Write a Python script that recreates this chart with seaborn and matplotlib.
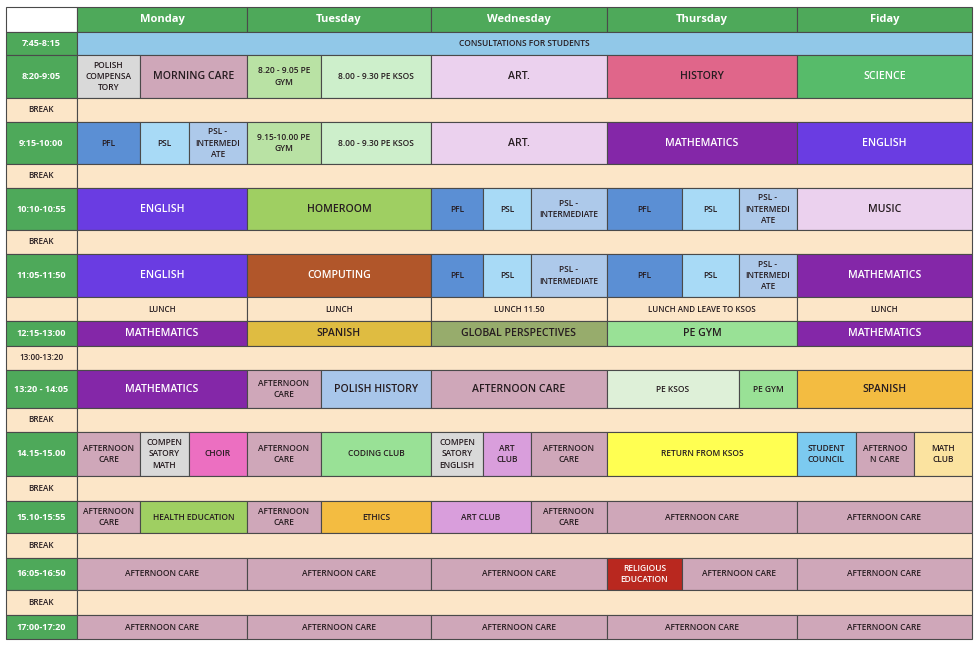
import numpy as np
import matplotlib
matplotlib.use("Agg")
import matplotlib.pyplot as plt
import seaborn as sns

# timetable content
days = ["Monday", "Tuesday", "Wednesday", "Thursday", "Fiday"]
day_subcols = [(1, 4), (4, 6), (6, 9), (9, 12), (12, 15)]

slot_labels = ["", "7:45-8:15", "8:20-9:05", "BREAK", "9:15-10:00", "BREAK",
               "10:10-10:55", "BREAK", "11:05-11:50", "", "12:15-13:00",
               "13:00-13:20", "13:20 - 14:05", "BREAK", "14.15-15.00", "BREAK",
               "15.10-15:55", "BREAK", "16:05-16:50", "BREAK", "17:00-17:20"]

# (text, first subcol, end subcol, subject key, big text)
psl_int = "PSL -\nINTERMEDI\nATE"
ac2 = "AFTERNOON\nCARE"
row_cells = {
    1: [("CONSULTATIONS FOR STUDENTS", 1, 15, "consult", False)],
    2: [("POLISH\nCOMPENSA\nTORY", 1, 2, "grey", False),
        ("MORNING CARE", 2, 4, "care", True),
        ("8.20 - 9.05 PE\nGYM", 4, 5, "pegym_l", False),
        ("8.00 - 9.30 PE KSOS", 5, 6, "ksos", False),
        ("ART.", 6, 9, "art", True),
        ("HISTORY", 9, 12, "history", True),
        ("SCIENCE", 12, 15, "science", True)],
    4: [("PFL", 1, 2, "pfl", False), ("PSL", 2, 3, "psl", False),
        (psl_int, 3, 4, "psli", False),
        ("9.15-10.00 PE\nGYM", 4, 5, "pegym_l", False),
        ("8.00 - 9.30 PE KSOS", 5, 6, "ksos", False),
        ("ART.", 6, 9, "art", True),
        ("MATHEMATICS", 9, 12, "math", True),
        ("ENGLISH", 12, 15, "english", True)],
    6: [("ENGLISH", 1, 4, "english", True),
        ("HOMEROOM", 4, 6, "homeroom", True),
        ("PFL", 6, 7, "pfl", False), ("PSL", 7, 8, "psl", False),
        ("PSL -\nINTERMEDIATE", 8, 9, "psli", False),
        ("PFL", 9, 10, "pfl", False), ("PSL", 10, 11, "psl", False),
        (psl_int, 11, 12, "psli", False),
        ("MUSIC", 12, 15, "art", True)],
    8: [("ENGLISH", 1, 4, "english", True),
        ("COMPUTING", 4, 6, "computing", True),
        ("PFL", 6, 7, "pfl", False), ("PSL", 7, 8, "psl", False),
        ("PSL -\nINTERMEDIATE", 8, 9, "psli", False),
        ("PFL", 9, 10, "pfl", False), ("PSL", 10, 11, "psl", False),
        (psl_int, 11, 12, "psli", False),
        ("MATHEMATICS", 12, 15, "math", True)],
    9: [("LUNCH", 1, 4, "break", False), ("LUNCH", 4, 6, "break", False),
        ("LUNCH 11.50", 6, 9, "break", False),
        ("LUNCH AND LEAVE TO KSOS", 9, 12, "break", False),
        ("LUNCH", 12, 15, "break", False)],
    10: [("MATHEMATICS", 1, 4, "math", True),
         ("SPANISH", 4, 6, "spanish_d", True),
         ("GLOBAL PERSPECTIVES", 6, 9, "global", True),
         ("PE GYM", 9, 12, "pegym", True),
         ("MATHEMATICS", 12, 15, "math", True)],
    12: [("MATHEMATICS", 1, 4, "math", True),
         (ac2, 4, 5, "care", False),
         ("POLISH HISTORY", 5, 6, "polhist", True),
         ("AFTERNOON CARE", 6, 9, "care", True),
         ("PE KSOS", 9, 11, "ksos_l", False),
         ("PE GYM", 11, 12, "pegym", False),
         ("SPANISH", 12, 15, "spanish", True)],
    14: [(ac2, 1, 2, "care", False),
         ("COMPEN\nSATORY\nMATH", 2, 3, "grey", False),
         ("CHOIR", 3, 4, "choir", False),
         (ac2, 4, 5, "care", False),
         ("CODING CLUB", 5, 6, "pegym", False),
         ("COMPEN\nSATORY\nENGLISH", 6, 7, "grey", False),
         ("ART\nCLUB", 7, 8, "artclub", False),
         (ac2, 8, 9, "care", False),
         ("RETURN FROM KSOS", 9, 12, "yellow", False),
         ("STUDENT\nCOUNCIL", 12, 13, "council", False),
         ("AFTERNOO\nN CARE", 13, 14, "care", False),
         ("MATH\nCLUB", 14, 15, "mathclub", False)],
    16: [(ac2, 1, 2, "care", False),
         ("HEALTH EDUCATION", 2, 4, "homeroom", False),
         (ac2, 4, 5, "care", False),
         ("ETHICS", 5, 6, "spanish", False),
         ("ART CLUB", 6, 8, "artclub", False),
         (ac2, 8, 9, "care", False),
         ("AFTERNOON CARE", 9, 12, "care", False),
         ("AFTERNOON CARE", 12, 15, "care", False)],
    18: [("AFTERNOON CARE", 1, 4, "care", False),
         ("AFTERNOON CARE", 4, 6, "care", False),
         ("AFTERNOON CARE", 6, 9, "care", False),
         ("RELIGIOUS\nEDUCATION", 9, 10, "religious", False),
         ("AFTERNOON CARE", 10, 12, "care", False),
         ("AFTERNOON CARE", 12, 15, "care", False)],
    20: [("AFTERNOON CARE", 1, 4, "care", False),
         ("AFTERNOON CARE", 4, 6, "care", False),
         ("AFTERNOON CARE", 6, 9, "care", False),
         ("AFTERNOON CARE", 9, 12, "care", False),
         ("AFTERNOON CARE", 12, 15, "care", False)],
}

# colours
palette = {
    "green": "#4ea95a", "break": "#fce6c8", "consult": "#91c8e8",
    "grey": "#d9d9d9", "care": "#cfa7b9", "pegym_l": "#b9e2a4",
    "ksos": "#cdefcb", "art": "#ebd1ee", "history": "#e0668a",
    "science": "#57bb6a", "pfl": "#5b8fd4", "psl": "#a8daf6",
    "psli": "#adc9ea", "math": "#8427a8", "english": "#6a3ce2",
    "homeroom": "#9fcf62", "computing": "#b1562a", "spanish_d": "#dfbc41",
    "global": "#97ac6c", "pegym": "#99e196", "polhist": "#a8c6ea",
    "ksos_l": "#def0d8", "spanish": "#f3bc41", "choir": "#ec6fc1",
    "artclub": "#d99edc", "yellow": "#ffff52", "council": "#7ccaf0",
    "mathclub": "#fbe3a0", "religious": "#b9281f",
}
white_text = {"green", "science", "math", "english", "computing", "religious"}

# layout (pixel units)
sub_widths = [71, 63, 49, 58, 74, 110, 52, 48, 76, 75, 57, 58, 59, 58, 58]
row_heights = [25, 23, 43, 24, 42, 24, 42, 24, 43, 24, 25, 24, 38, 24, 44,
               25, 32, 25, 32, 25, 24]
x_edges = 6 + np.concatenate([[0], np.cumsum(sub_widths)])
y_edges = 7 + np.concatenate([[0], np.cumsum(row_heights)])

sns.set_theme(style="white")
plt.rcParams['font.family'] = ['Open Sans', 'DejaVu Sans']

fig = plt.figure(figsize=(9.79, 6.46), dpi=100)
ax = fig.add_axes([0, 0, 1, 1])
ax.set_xlim(0, 979)
ax.set_ylim(646, 0)
ax.axis('off')

EDGE = "#4a4a4a"


def cell(r, c0, c1, key, text="", size=6.0, weight="semibold"):
    x0, x1 = x_edges[c0], x_edges[c1]
    y0, y1 = y_edges[r], y_edges[r + 1]
    ax.barh(y0, x1 - x0, height=y1 - y0, left=x0, align='edge',
            color=palette.get(key, key), edgecolor=EDGE, linewidth=0.8)
    if text:
        tc = "white" if key in white_text else "#261c20"
        ax.text((x0 + x1) / 2, (y0 + y1) / 2, text, ha='center', va='center',
                fontsize=size, fontweight=weight, color=tc, linespacing=1.35)


# header row
cell(0, 0, 1, "white")
for d, (c0, c1) in zip(days, day_subcols):
    cell(0, c0, c1, "green", d, size=8, weight="bold")

# time column and rows
for r in range(1, len(slot_labels)):
    lab = slot_labels[r]
    if r in row_cells and r != 9:
        cell(r, 0, 1, "green", lab, size=6.6, weight="bold")
        for text, c0, c1, key, big in row_cells[r]:
            cell(r, c0, c1, key, text, size=7.6 if big else 6.0)
    elif r == 9:
        cell(r, 0, 1, "break")
        for text, c0, c1, key, big in row_cells[r]:
            cell(r, c0, c1, key, text, size=5.8)
    else:
        cell(r, 0, 1, "break", lab, size=5.9)
        cell(r, 1, 15, "break")

plt.savefig("out.png", dpi=100)
